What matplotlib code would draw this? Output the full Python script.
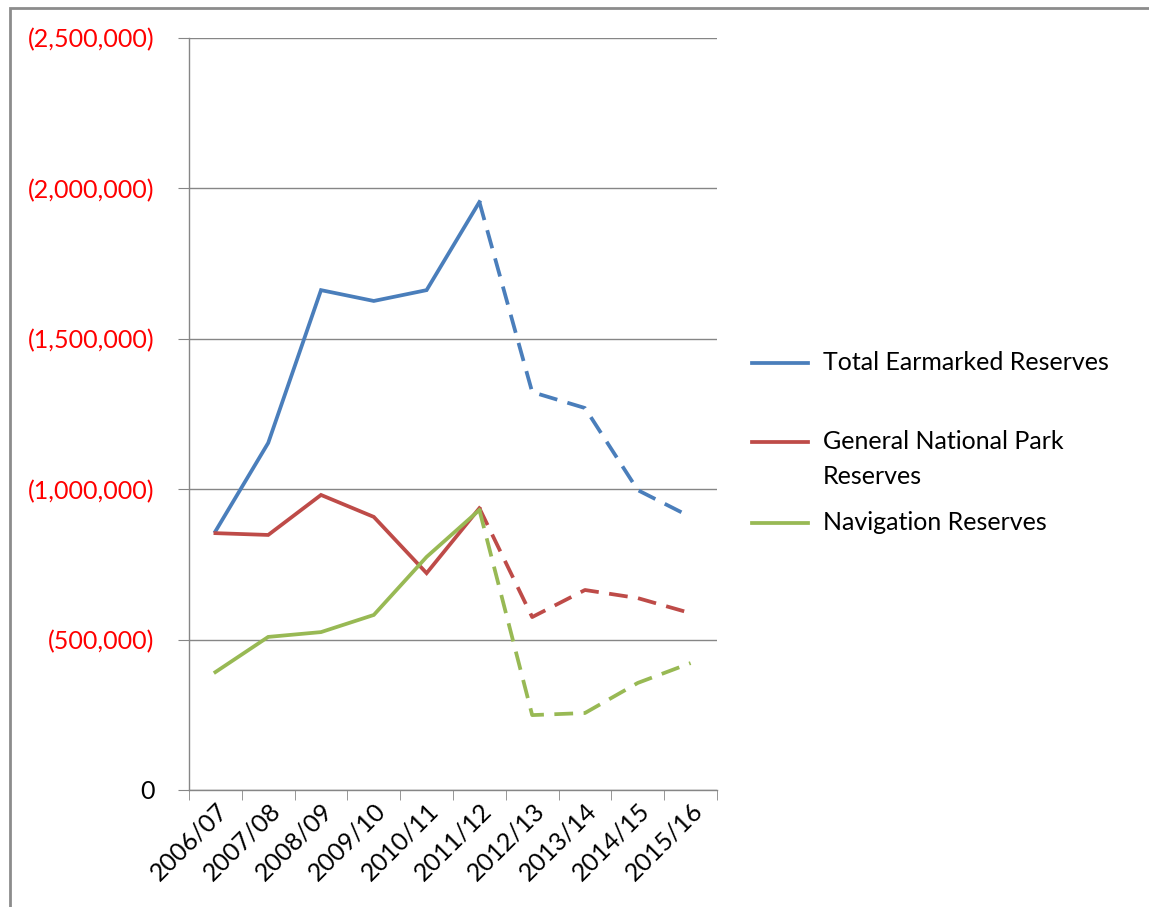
import matplotlib.pyplot as plt
from matplotlib.lines import Line2D
from matplotlib.patches import Rectangle
from matplotlib.ticker import FuncFormatter

years = ["2006/07", "2007/08", "2008/09", "2009/10", "2010/11",
         "2011/12", "2012/13", "2013/14", "2014/15", "2015/16"]

# reserves shown as negative balances (Excel shows them in brackets)
total_reserves = [-860000, -1154000, -1662000, -1626000, -1662000,
                  -1955000, -1323000, -1270000, -997000, -908000]
general_reserves = [-854000, -848000, -981000, -908000, -721000,
                    -937000, -575000, -665000, -638000, -588000]
navigation_reserves = [-392000, -509000, -525000, -582000, -775000,
                       -931000, -249000, -256000, -356000, -422000]

# index where actuals stop and forecasts (dashed) start
split = 5

series = [
    ("Total Earmarked Reserves", total_reserves, "#4A7EBB"),
    ("General National Park\nReserves", general_reserves, "#BE4B48"),
    ("Navigation Reserves", navigation_reserves, "#98B954"),
]

plt.rcParams["font.family"] = ["Lato", "DejaVu Sans"]
FS = 18

fig = plt.figure(figsize=(11.49, 9.07), dpi=100)
ax = fig.add_axes([0.1645, 0.129, 0.4595, 0.829])

x = list(range(len(years)))
for label, vals, color in series:
    ax.plot(x[: split + 1], vals[: split + 1], color=color, lw=2.7,
            solid_joinstyle="miter", zorder=3)
    ax.plot(x[split:], vals[split:], color=color, lw=2.7,
            linestyle=(0, (5, 2.8)), zorder=3)

ax.set_xlim(-0.5, len(years) - 0.5)
ax.set_ylim(0, -2500000)
ax.set_yticks([0, -500000, -1000000, -1500000, -2000000, -2500000])


def fmt(v, pos):
    if v == 0:
        return "0"
    return "({:,.0f})".format(abs(v))


ax.yaxis.set_major_formatter(FuncFormatter(fmt))
ax.grid(axis="y", color="#868686", lw=1)
ax.set_axisbelow(True)

ax.set_xticks(x)
ax.set_xticklabels(years, rotation=45, ha="right", rotation_mode="anchor",
                   fontsize=FS)
ax.tick_params(axis="x", length=0, pad=6)
ax.set_xticks([i - 0.5 for i in range(len(years) + 1)], minor=True)
ax.tick_params(axis="x", which="minor", length=7, color="#868686",
               direction="out")
ax.tick_params(axis="y", length=8, color="#868686", labelsize=FS, pad=17)

for lbl in ax.get_yticklabels():
    if lbl.get_text() != "0":
        lbl.set_color("#FF0000")

for side in ["top", "right"]:
    ax.spines[side].set_visible(False)
for side in ["left", "bottom"]:
    ax.spines[side].set_color("#868686")
    ax.spines[side].set_linewidth(1)

# legend drawn by hand to match Excel layout
W, H = 1149, 907
legend_rows = [363, 442, 523]
for (label, vals, color), ry in zip(series, legend_rows):
    yf = 1 - ry / H
    fig.add_artist(Line2D([752 / W, 808 / W], [yf, yf], color=color, lw=2.7))
    ty = ry + 17 if "\n" in label else ry
    fig.text(823 / W, 1 - ty / H, label, fontsize=FS, va="center",
             linespacing=1.6)

# outer chart border
fig.add_artist(Rectangle((10 / W, -0.1), 1.2, 1 - 8 / H + 0.1,
                         transform=fig.transFigure, fill=False,
                         edgecolor="#8C8C8C", lw=2))

fig.savefig("out.png", dpi=100)
